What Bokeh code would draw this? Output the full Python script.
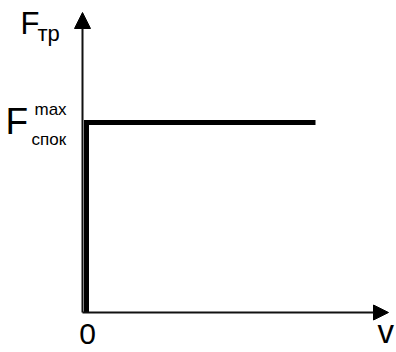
from bokeh.plotting import figure
from bokeh.models import Range1d, Arrow, NormalHead, Label
from bokeh.embed import file_html
from bokeh.resources import INLINE

# Friction force vs. speed: static friction grows up to its maximum at v = 0,
# then sliding friction stays constant at that maximum.
F_static_max = 1.0
v_points = [0.0, 0.0, 1.0]
F_points = [0.0, F_static_max, F_static_max]

# Axis extents (in data units)
v_axis_end = 1.3188
F_axis_end = 1.5789

# pixels per data unit
XS = 229.0
YS = 190.0
W, H = 396, 352
ORIGIN_PX = (86, 40)  # origin from left / bottom of canvas

p = figure(
    width=W, height=H,
    x_range=Range1d(-ORIGIN_PX[0] / XS, (W - ORIGIN_PX[0]) / XS),
    y_range=Range1d(-ORIGIN_PX[1] / YS, (H - ORIGIN_PX[1]) / YS),
    x_axis_type=None, y_axis_type=None,
    toolbar_location=None, output_backend="svg",
    min_border=0, outline_line_color=None,
    background_fill_color="white", border_fill_color="white",
)
p.grid.visible = False

# axes with arrow heads
ax_x = -4 / XS
p.add_layout(Arrow(x_start=ax_x, y_start=0, x_end=ax_x, y_end=F_axis_end,
                   line_color="#111111", line_width=2,
                   end=NormalHead(size=16, fill_color="black", line_color="black", line_width=1)))
p.add_layout(Arrow(x_start=ax_x, y_start=0, x_end=v_axis_end, y_end=0,
                   line_color="#111111", line_width=2,
                   end=NormalHead(size=15, fill_color="black", line_color="black", line_width=1)))

# friction characteristic
p.line(v_points, F_points, line_color="black", line_width=5,
       line_join="miter", line_cap="butt")

FONT = "Liberation Sans"
BASELINE_FIX = 0.38  # em, lifts the text onto the intended baseline


def lbl(text, x, y, size, align="left"):
    p.add_layout(Label(x=x, y=y + BASELINE_FIX * size / YS, text=text,
                       text_font=FONT, text_font_size=f"{size}px",
                       text_color="black", text_align=align,
                       text_baseline="alphabetic"))


# F_тр on the vertical axis
lbl("F", (20 - 86) / XS, (312 - 35) / YS, 31)
lbl("тр", (37 - 86) / XS, (312 - 41) / YS, 22)

# F_спок^max at the level of the maximum static friction
lbl("F", (5 - 86) / XS, F_static_max - 13 / YS, 37)
lbl("max", (34 - 86) / XS, F_static_max + 7 / YS, 17)
lbl("спок", (31 - 86) / XS, F_static_max - 23 / YS, 17)

# origin and speed axis
lbl("0", 1 / XS, -33 / YS, 30, align="center")
lbl("v", (377 - 86) / XS, -32 / YS, 33)

open("out.html", "w").write(file_html(p, INLINE))
